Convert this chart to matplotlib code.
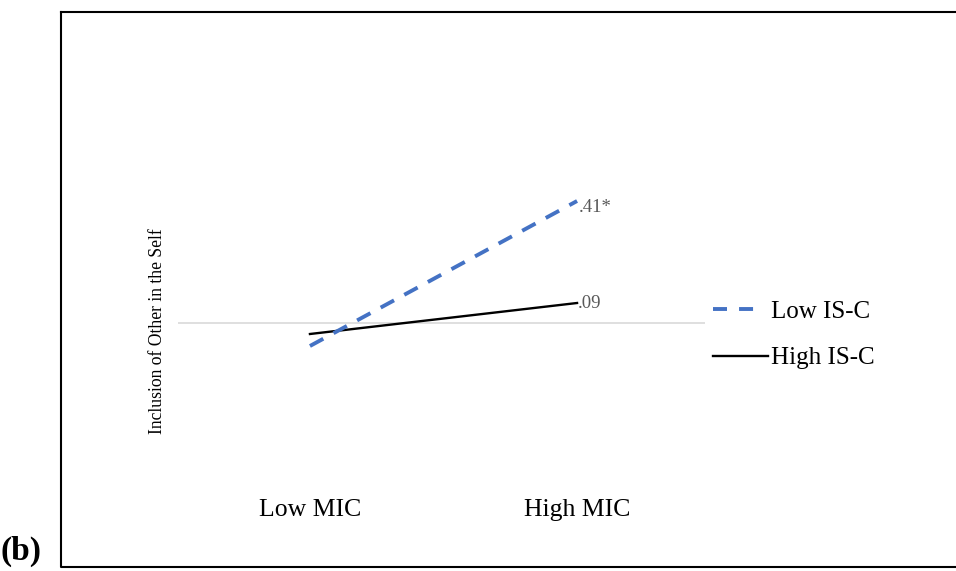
import matplotlib.pyplot as plt
from matplotlib.lines import Line2D

# Simple slopes, drawn on an arbitrary scale (0 = the grey reference line)
conditions = ["Low MIC", "High MIC"]
low_isc = [-0.23, 1.22]
high_isc = [-0.11, 0.20]
slope_labels = [".41*", ".09"]
series_names = ["Low IS-C", "High IS-C"]

plt.rcParams["font.family"] = ["Liberation Serif", "DejaVu Serif"]

fig = plt.figure(figsize=(9.56, 5.71), dpi=100)
W, H = 956, 571

# axes area in pixels: x 178..705, y 60..480
ax = fig.add_axes([178 / W, 1 - 480 / H, 527 / W, 420 / H])
x = list(range(len(conditions)))

ax.axhline(0, color="#d9d9d9", lw=1.2, zorder=1)
ax.plot(x, low_isc, color="#4472c4", lw=2.8, dashes=(3.9, 3.0),
        label=series_names[0], zorder=3)
ax.plot(x, high_isc, color="black", lw=1.7, label=series_names[1], zorder=2)

ax.text(x[1] + 0.008, low_isc[1] - 0.06, slope_labels[0], color="#595959",
        fontsize=13.5, ha="left", va="center")
ax.text(x[1] + 0.004, high_isc[1] + 0.0, slope_labels[1], color="#595959",
        fontsize=13.5, ha="left", va="center")

ax.set_xlim(-0.494, 1.479)
ax.set_ylim(-1.57, 2.63)
ax.set_xticks(x)
ax.set_xticklabels(conditions, fontsize=18.5)
ax.tick_params(axis="x", length=0, pad=14)
ax.set_yticks([])
for s in ax.spines.values():
    s.set_visible(False)

fig.text(157 / W, 1 - 331 / H, "Inclusion of Other in the Self", rotation=90,
         fontsize=12.7, ha="center", va="center")

leg = ax.legend(loc="center left", bbox_to_anchor=(713 / W, 1 - 335 / H),
                bbox_transform=fig.transFigure, frameon=False, fontsize=18,
                handlelength=2.2, handletextpad=0.12, labelspacing=0.95,
                borderpad=0, borderaxespad=0)
# the dashed key only shows two dashes in the original
leg.get_lines()[0].set_dashes((3.6, 3.1, 3.6, 20))

# outer frame (left, top, bottom)
fig.add_artist(Line2D([61 / W, 61 / W, 1.0], [1 - 12 / H, 1 - 567 / H, 1 - 567 / H],
                      color="black", lw=1.5, transform=fig.transFigure))
fig.add_artist(Line2D([61 / W, 1.0], [1 - 12 / H, 1 - 12 / H],
                      color="black", lw=1.5, transform=fig.transFigure))

fig.text(1 / W, 1 - 551 / H, "(b)", fontsize=24, fontweight="bold",
         ha="left", va="center")

plt.savefig("out.png", dpi=100)
